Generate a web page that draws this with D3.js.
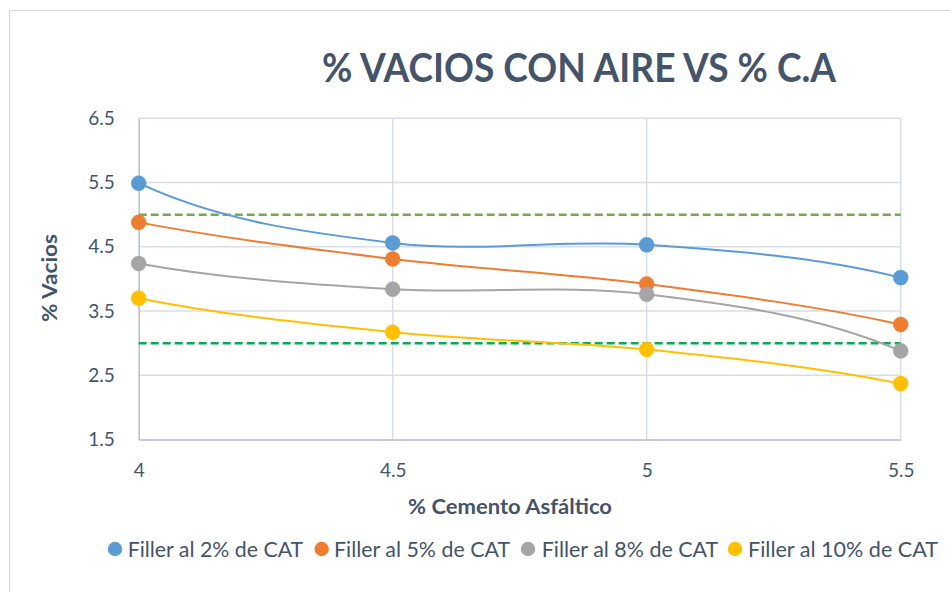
<!DOCTYPE html>
<html>
<head>
<meta charset="utf-8">
<script src="https://cdn.jsdelivr.net/npm/d3@7"></script>
<style>
  html, body { margin: 0; padding: 0; background: #fff; }
  svg { display: block; }
</style>
</head>
<body>
<svg id="chart" width="950" height="592"></svg>
<script>
// ---- data ----
const categories = [4, 4.5, 5, 5.5];
const seriesNames = ["Filler al 2% de CAT", "Filler al 5% de CAT", "Filler al 8% de CAT", "Filler al 10% de CAT"];
const filler2  = [5.49, 4.56, 4.53, 4.02];
const filler5  = [4.88, 4.31, 3.92, 3.29];
const filler8  = [4.24, 3.84, 3.76, 2.88];
const filler10 = [3.70, 3.17, 2.90, 2.37];
const upperLimit = 5.0;
const lowerLimit = 3.0;
const yTicks = [1.5, 2.5, 3.5, 4.5, 5.5, 6.5];
const xTicks = [4, 4.5, 5, 5.5];
const titleText = "% VACIOS CON AIRE VS % C.A";
const xTitle = "% Cemento Asfáltico";
const yTitle = "% Vacios";

const seriesValues = [filler2, filler5, filler8, filler10];
const colors = ["#5B9BD5", "#ED7D31", "#A5A5A5", "#FFC000"];
const textColor = "#44546A";
const font = "Lato, 'Open Sans', sans-serif";

const svg = d3.select("#chart");

// frame
svg.append("rect").attr("x", 9.5).attr("y", 10.5).attr("width", 980).attr("height", 620)
  .attr("fill", "#fff").attr("stroke", "#D9D9D9").attr("stroke-width", 1);

const x = d3.scaleLinear().domain([4, 5.5]).range([138.7, 900.7]);
const y = d3.scaleLinear().domain([1.5, 6.5]).range([439.5, 118.3]);

// gridlines
const grid = svg.append("g");
grid.selectAll("line.h").data(yTicks.slice(1)).join("line")
  .attr("x1", x(4)).attr("x2", x(5.5))
  .attr("y1", d => y(d)).attr("y2", d => y(d))
  .attr("stroke", "#D9DEE6").attr("stroke-width", 1.5);
grid.selectAll("line.v").data(xTicks.slice(1)).join("line")
  .attr("x1", d => x(d)).attr("x2", d => x(d))
  .attr("y1", y(6.5)).attr("y2", y(1.5))
  .attr("stroke", "#D9DEE6").attr("stroke-width", 1.5);

// axes
const yAxis = svg.append("g").attr("transform", `translate(${x(4)},0)`)
  .call(d3.axisLeft(y).tickValues(yTicks).tickSize(0).tickPadding(24).tickFormat(d3.format(".1f")));
const xAxis = svg.append("g").attr("transform", `translate(0,${y(1.5)})`)
  .call(d3.axisBottom(x).tickValues(xTicks).tickSize(0).tickPadding(24).tickFormat(d => String(d)));
[yAxis, xAxis].forEach(a => {
  a.select(".domain").attr("stroke", "#B4BECE").attr("stroke-width", 1.5);
  a.selectAll("text").attr("fill", textColor).attr("font-family", font).attr("font-size", 19);
});

// limit dashed lines
svg.append("line").attr("x1", x(4)).attr("x2", x(5.5)).attr("y1", y(upperLimit)).attr("y2", y(upperLimit))
  .attr("stroke", "#70AD47").attr("stroke-width", 2.5).attr("stroke-dasharray", "8,4");
svg.append("line").attr("x1", x(4)).attr("x2", x(5.5)).attr("y1", y(lowerLimit)).attr("y2", y(lowerLimit))
  .attr("stroke", "#00B050").attr("stroke-width", 2.5).attr("stroke-dasharray", "8,4");

// smoothed line (spreadsheet-style): interior tangents Catmull-Rom, end tangents extrapolated
function smoothPath(vals) {
  const P = categories.map((c, j) => [x(c), y(vals[j])]);
  const n = P.length;
  const T = P.map(() => [0, 0]);
  for (let i = 1; i < n - 1; i++) {
    T[i] = [(P[i + 1][0] - P[i - 1][0]) / 2, (P[i + 1][1] - P[i - 1][1]) / 2];
  }
  T[0] = [3 * (P[1][0] - P[0][0]) - 2 * T[1][0], 3 * (P[1][1] - P[0][1]) - 2 * T[1][1]];
  T[n - 1] = [3 * (P[n - 1][0] - P[n - 2][0]) - 2 * T[n - 2][0], 3 * (P[n - 1][1] - P[n - 2][1]) - 2 * T[n - 2][1]];
  const p = d3.path();
  p.moveTo(P[0][0], P[0][1]);
  for (let i = 0; i < n - 1; i++) {
    p.bezierCurveTo(P[i][0] + T[i][0] / 3, P[i][1] + T[i][1] / 3,
                    P[i + 1][0] - T[i + 1][0] / 3, P[i + 1][1] - T[i + 1][1] / 3,
                    P[i + 1][0], P[i + 1][1]);
  }
  return p.toString();
}

seriesValues.forEach((vals, i) => {
  svg.append("path").attr("d", smoothPath(vals))
    .attr("fill", "none").attr("stroke", colors[i]).attr("stroke-width", 2);
});
seriesValues.forEach((vals, i) => {
  const pts = categories.map((c, j) => [c, vals[j]]);
  svg.append("g").selectAll("circle").data(pts).join("circle")
    .attr("cx", d => x(d[0])).attr("cy", d => y(d[1])).attr("r", 7.5)
    .attr("fill", colors[i]).attr("stroke", colors[i]).attr("stroke-width", 0.5);
});

// titles
svg.append("text").attr("x", 322).attr("y", 82).text(titleText)
  .attr("font-family", font).attr("font-weight", "bold").attr("font-size", 40)
  .attr("fill", textColor).attr("textLength", 514).attr("lengthAdjust", "spacingAndGlyphs");
svg.append("text").attr("x", 408).attr("y", 514).text(xTitle)
  .attr("font-family", font).attr("font-weight", "bold").attr("font-size", 21)
  .attr("fill", textColor).attr("textLength", 204).attr("lengthAdjust", "spacingAndGlyphs");
svg.append("text").attr("transform", "translate(57,278) rotate(-90)").attr("text-anchor", "middle")
  .text(yTitle)
  .attr("font-family", font).attr("font-weight", "bold").attr("font-size", 21)
  .attr("fill", textColor).attr("textLength", 88).attr("lengthAdjust", "spacingAndGlyphs");

// legend
const legendMarkers = [115, 321.7, 528, 735];
const legendTextStart = [127.7, 334, 541.7, 748];
const legendTextLen = [175.5, 176, 176.5, 190];
const lg = svg.append("g");
seriesNames.forEach((name, i) => {
  lg.append("circle").attr("cx", legendMarkers[i]).attr("cy", 549).attr("r", 7.2).attr("fill", colors[i]);
  lg.append("text").attr("x", legendTextStart[i]).attr("y", 556.5).text(name)
    .attr("font-family", font).attr("font-size", 21).attr("fill", textColor)
    .attr("textLength", legendTextLen[i]).attr("lengthAdjust", "spacingAndGlyphs");
});
</script>
</body>
</html>
